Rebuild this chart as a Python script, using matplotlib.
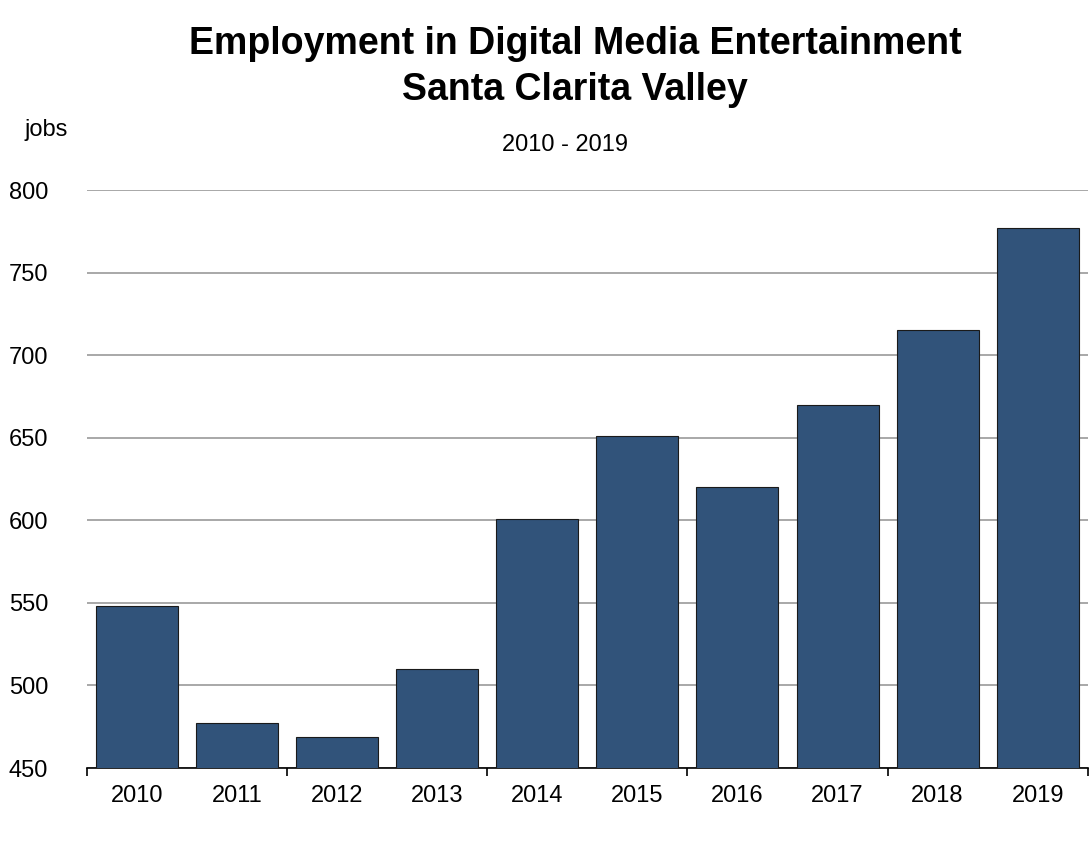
import matplotlib
matplotlib.use("Agg")
import matplotlib.pyplot as plt
from matplotlib.ticker import FixedLocator

years = ["2010","2011","2012","2013","2014","2015","2016","2017","2018","2019"]
jobs = [548, 477, 469, 510, 601, 651, 620, 670, 715, 777]

plt.rcParams['font.family'] = ['Liberation Sans Narrow', 'Liberation Sans', 'DejaVu Sans']
fig = plt.figure(figsize=(10.91, 8.41), dpi=100)
ax = fig.add_axes([0.0797, 0.0868, 0.9173, 0.6872])
x = list(range(len(years)))
ax.bar(x, jobs, width=0.82, color="#31537a", edgecolor="#1a1a1a", linewidth=0.8, zorder=3)
ax.set_xlim(-0.5, 9.5)
ax.set_ylim(450, 800)
ax.set_yticks(range(450, 801, 50))
ax.yaxis.grid(True, color="#999999", linewidth=1.2, zorder=0)
ax.set_xticks(x)
ax.set_xticklabels(years, fontsize=17)
ax.tick_params(axis='x', which='major', length=0, pad=12)
ax.xaxis.set_minor_locator(FixedLocator([-0.5, 1.5, 3.5, 5.5, 7.5, 9.5]))
ax.tick_params(axis='x', which='minor', length=6, width=1.2, direction='out')
ax.tick_params(axis='y', length=0, labelsize=17, pad=28)
for s in ['top', 'right', 'left']:
    ax.spines[s].set_visible(False)
ax.spines['bottom'].set_linewidth(1.2)
fig.text(0.527, 0.948, "Employment in Digital Media Entertainment", ha='center', va='center', fontsize=27, fontweight='bold')
fig.text(0.527, 0.893, "Santa Clarita Valley", ha='center', va='center', fontsize=27, fontweight='bold')
fig.text(0.518, 0.827, "2010 - 2019", ha='center', va='center', fontsize=17)
fig.text(0.042, 0.846, "jobs", ha='center', va='center', fontsize=17)
fig.savefig("out.png", dpi=100)
